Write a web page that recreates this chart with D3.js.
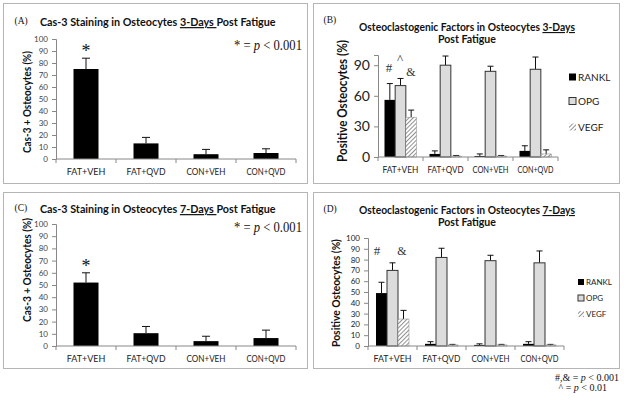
<!DOCTYPE html>
<html><head><meta charset="utf-8">
<script src="https://cdn.jsdelivr.net/npm/d3@7"></script>
<style>body{margin:0;background:#fff}svg{display:block}</style>
</head><body>
<script>
// ---- data ----
const categories = ["FAT+VEH","FAT+QVD","CON+VEH","CON+QVD"];
const seriesNames = ["RANKL","OPG","VEGF"];
// Panel A: Cas-3, 3 days
const cas3Day3 = [75, 13, 4, 5];
const cas3Day3Err = [9, 5, 4, 3.5];
// Panel C: Cas-3, 7 days
const cas3Day7 = [52, 10.5, 4, 6.5];
const cas3Day7Err = [8, 5.5, 4, 6.5];
// Panel B: factors 3 days
const rankl3 = [56, 3, 1, 6];
const rankl3Err = [16, 3, 2, 5];
const opg3 = [70, 90, 84, 86];
const opg3Err = [7, 9, 5, 12];
const vegf3 = [39, 1, 1, 3];
const vegf3Err = [7, 0.5, 0.5, 4];
// Panel D: factors 7 days
const rankl7 = [49, 2, 1, 2];
const rankl7Err = [10, 2, 1, 2];
const opg7 = [70, 82, 79, 77];
const opg7Err = [7, 8.5, 5, 11];
const vegf7 = [25, 1, 1, 1];
const vegf7Err = [8, 0.5, 0.5, 0.5];
const casTicks = [0,10,20,30,40,50,60,70,80,90,100];
const factorTicks3 = [0,30,60,90];
const factorTicks7 = [0,10,20,30,40,50,60,70,80,90,100];

const W=624,H=401;
const svg=d3.select("body").append("svg").attr("width",W).attr("height",H);
const defs=svg.append("defs");
const pat=defs.append("pattern").attr("id","hatch").attr("patternUnits","userSpaceOnUse")
  .attr("width",3).attr("height",3).attr("patternTransform","rotate(45)");
pat.append("rect").attr("width",3).attr("height",3).attr("fill","#fff");
pat.append("line").attr("x1",0).attr("y1",0).attr("x2",0).attr("y2",3).attr("stroke","#555").attr("stroke-width",1.3);

const SANS="Lato, 'Open Sans', sans-serif";
const SERIF="'Liberation Serif', 'DejaVu Serif', serif";
const fills={RANKL:"#000",OPG:"#dcdcdc",VEGF:"url(#hatch)"};

// squeeze a text horizontally about its anchor point to a target width
function fit(t,target){
  const w=t.node().getComputedTextLength();
  const s=target/w, x=+t.attr("x"), y=+t.attr("y");
  t.attr("transform",`translate(${x},${y}) scale(${s},1) translate(${-x},${-y})`);
  return t;
}
function box(x,y,w,h){
  svg.append("rect").attr("x",x).attr("y",y).attr("width",w).attr("height",h)
    .attr("fill","none").attr("stroke","#b5b5b5").attr("stroke-width",1);
}
function title(x,y,parts,size,len,anchor){
  const t=svg.append("text").attr("x",x).attr("y",y).attr("font-family",SANS)
    .attr("font-weight","bold").attr("font-size",size).attr("fill","#111")
    .attr("text-anchor",anchor||"start");
  parts.forEach(p=>{const s=t.append("tspan").text(p.t); if(p.u) s.attr("text-decoration","underline");});
  if(len) fit(t,len);
  return t;
}
function label(x,y,txt,size,fam,opts){
  opts=opts||{};
  const t=svg.append("text").attr("x",x).attr("y",y).attr("font-family",fam).attr("font-size",size)
    .attr("fill",opts.fill||"#111").attr("text-anchor",opts.anchor||"start").text(txt);
  if(opts.bold) t.attr("font-weight","bold");
  if(opts.len) fit(t,opts.len);
  return t;
}
function pText(x,y,prefix,tail,size,anchor){
  const t=svg.append("text").attr("x",x).attr("y",y).attr("font-family",SERIF).attr("font-size",size)
    .attr("fill","#111").attr("text-anchor",anchor||"start");
  t.append("tspan").text(prefix+" = ");
  t.append("tspan").attr("font-style","italic").text("p");
  t.append("tspan").text(tail);
  return t;
}
function vLabel(cx,cy,txt,size,len){
  const t=svg.append("text").attr("x",0).attr("y",0).attr("text-anchor","middle")
    .attr("font-family",SANS).attr("font-weight","bold").attr("font-size",size).attr("fill","#111").text(txt);
  const s=len/t.node().getComputedTextLength();
  t.attr("transform",`translate(${cx},${cy}) rotate(-90) scale(${s},1)`);
}

function xAxis(x,y0,tickFont,labW){
  const g=svg.append("g");
  const [a,b]=x.range();
  g.append("line").attr("x1",a).attr("x2",b).attr("y1",y0).attr("y2",y0).attr("stroke","#888");
  const bounds=categories.map(c=>x(c)).concat([b]);
  bounds.forEach(v=>g.append("line").attr("x1",v).attr("x2",v).attr("y1",y0).attr("y2",y0+4).attr("stroke","#888"));
  categories.forEach(c=>{
    const t=g.append("text").attr("x",x(c)+x.bandwidth()/2).attr("y",y0+16)
      .attr("text-anchor","middle").attr("font-family",SANS).attr("font-size",tickFont).attr("fill","#222").text(c);
    if(labW){const w=t.node().getComputedTextLength(); if(w>labW) fit(t,labW);}
  });
}
function yAxis(y,x0,ticks,font,col){
  const g=svg.append("g").attr("transform",`translate(${x0},0)`)
    .call(d3.axisLeft(y).tickValues(ticks).tickSize(4).tickPadding(4));
  g.select(".domain").attr("stroke","#888");
  g.selectAll(".tick line").attr("stroke","#888");
  g.selectAll(".tick text").attr("font-family",SANS).attr("font-size",font).attr("fill",col);
}
function errBar(cx,ytop,yerr,cap){
  svg.append("line").attr("x1",cx).attr("x2",cx).attr("y1",ytop).attr("y2",yerr).attr("stroke","#111").attr("stroke-width",1);
  svg.append("line").attr("x1",cx-cap).attr("x2",cx+cap).attr("y1",yerr).attr("y2",yerr).attr("stroke","#111").attr("stroke-width",1);
}

// ---- Cas-3 panels ----
function casPanel(o){
  box(o.bx,o.by,o.bw,o.bh);
  label(o.bx+11,o.ty-2,o.tag,9.5,SERIF);
  title(40,o.ty,[{t:"Cas-3 Staining in Osteocytes "},{t:o.days,u:true},{t:"Post Fatigue"}],12,236);
  const y=d3.scaleLinear().domain([0,100]).range([o.y0,o.y1]);
  const x=d3.scaleBand().domain(categories).range([56,296]);
  yAxis(y,56,casTicks,8,"#444");
  const bw=25;
  categories.forEach((c,i)=>{
    const cx=x(c)+x.bandwidth()/2;
    errBar(cx,y(o.vals[i]),y(o.vals[i]+o.errs[i]),4);
    svg.append("rect").attr("x",cx-bw/2).attr("y",y(o.vals[i])).attr("width",bw)
      .attr("height",y(0)-y(o.vals[i])).attr("fill","#000");
  });
  xAxis(x,o.y0,9,39);
  vLabel(31,o.labY,"Cas-3 + Osteocytes (%)",12,o.labLen);
  fit(pText(234,o.pY,"*"," < 0.001",14),68);
  label(x(categories[0])+x.bandwidth()/2,y(o.vals[0]+o.errs[0])-1,"*",18,SERIF,{anchor:"middle"});
}
casPanel({bx:3.5,by:3.5,bw:304,bh:180,tag:"(A)",ty:26,days:"3-Days ",y0:159,y1:39,vals:cas3Day3,errs:cas3Day3Err,pY:50,labY:102,labLen:102});
casPanel({bx:3.5,by:192.5,bw:304,bh:176,tag:"(C)",ty:213,days:"7-Days ",y0:346,y1:224,vals:cas3Day7,errs:cas3Day7Err,pY:232,labY:270,labLen:104});

// ---- factor panels ----
function facPanel(o){
  box(o.bx,o.by,o.bw,o.bh);
  label(o.bx+10,o.by+19,o.tag,9.5,SERIF);
  title(467,o.t1,[{t:"Osteoclastogenic Factors in Osteocytes "},{t:o.days,u:true}],11,216,"middle");
  title(467,o.t2,[{t:"Post Fatigue"}],11,58,"middle");
  const y=d3.scaleLinear().domain([0,100]).range([o.y0,o.y1]);
  const x=d3.scaleBand().domain(categories).range([o.xa,o.xb]);
  yAxis(y,o.xa,o.ticks,o.tickFont,"#222");
  const data=[o.r,o.o,o.v], errs=[o.re,o.oe,o.ve];
  const gx=d3.scaleBand().domain(seriesNames).range([0,o.gw]);
  categories.forEach((c,i)=>{
    const left=x(c)+(x.bandwidth()-o.gw)/2;
    seriesNames.forEach((s,j)=>{
      const v=data[j][i], e=errs[j][i];
      const bx=left+gx(s), cx=bx+gx.bandwidth()/2;
      errBar(cx,y(v),y(v+e),3);
      svg.append("rect").attr("x",bx).attr("y",y(v)).attr("width",gx.bandwidth()).attr("height",y(0)-y(v))
        .attr("fill",fills[s]).attr("stroke",s==="RANKL"?"none":(s==="OPG"?"#333":"#888")).attr("stroke-width",s==="OPG"?1:0.5);
    });
  });
  xAxis(x,o.y0,9,o.catW);
  vLabel(o.labX,o.labY,"Positive Osteocytes (%)",o.labFont,o.labLen);
  // legend
  seriesNames.forEach((s,j)=>{
    const ly=o.legY[j];
    svg.append("rect").attr("x",o.legX).attr("y",ly-o.ms/2).attr("width",o.ms).attr("height",o.ms)
      .attr("fill",fills[s]).attr("stroke",s==="RANKL"?"none":"#333").attr("stroke-width",s==="OPG"?1:0);
    label(o.legX+o.ms+2,ly+o.lf/2-1,s,o.lf,SANS,{fill:"#222"});
  });
  o.ann.forEach(a=>label(a.x,a.y,a.t,a.s,SERIF,{anchor:"middle",fill:"#333"}));
}
facPanel({bx:313.5,by:3.5,bw:306,bh:180,tag:"(B)",days:"3-Days",t1:31,t2:43,y0:157,y1:55,xa:378,xb:558,gw:32,
  ticks:factorTicks3,tickFont:14,r:rankl3,re:rankl3Err,o:opg3,oe:opg3Err,v:vegf3,ve:vegf3Err,catW:36,
  labX:347,labY:101,labFont:14,labLen:122,legX:569,legY:[77,101,127],ms:7,lf:10,
  ann:[{x:389,y:72,t:"#",s:13},{x:400,y:63,t:"^",s:13},{x:411,y:76,t:"&",s:12}]});
facPanel({bx:313.5,by:192.5,bw:306,bh:176,tag:"(D)",days:"7-Days",t1:214,t2:226,y0:346,y1:238,xa:368,xb:564,gw:33,
  ticks:factorTicks7,tickFont:8,r:rankl7,re:rankl7Err,o:opg7,oe:opg7Err,v:vegf7,ve:vegf7Err,catW:38,
  labX:340,labY:293,labFont:12,labLen:108,legX:578,legY:[282,298,314],ms:6,lf:8,
  ann:[{x:377,y:255,t:"#",s:13},{x:402,y:255,t:"&",s:12}]});

// footnotes
pText(619,381,"#,&"," < 0.001",10,"end");
pText(607,391,"^"," < 0.01",10,"end");
</script>
</body></html>
